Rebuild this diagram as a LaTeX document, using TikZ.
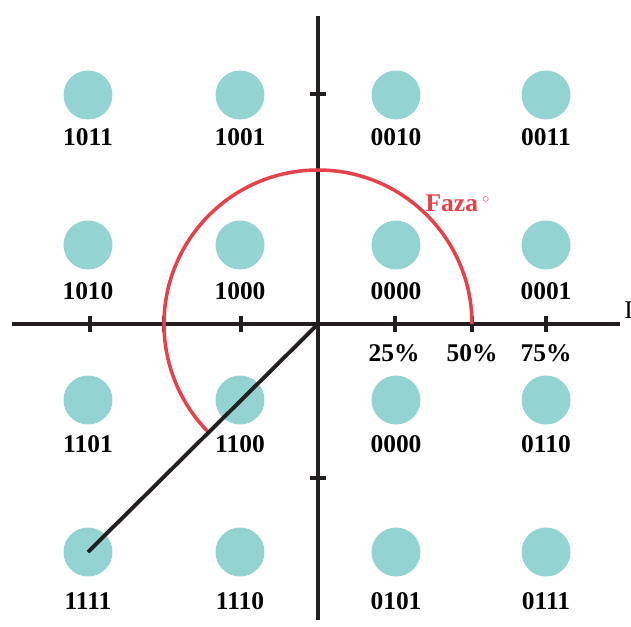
\documentclass[tikz,border=0pt]{standalone}
\usepackage{fontspec}
\setmainfont{Liberation Serif}
\usetikzlibrary{calc}
\definecolor{dotTeal}{HTML}{93D4D2}
\definecolor{phaseRed}{HTML}{E4414A}
\definecolor{axisBlack}{HTML}{231F20}
\tikzstyle{tsBold} = [ 
    text=black, 
    font=\bfseries\fontsize{14.5}{17}\selectfont
]
\tikzstyle{tsDot} = [ 
    circle,
    fill=dotTeal,
    inner sep=0pt,
    minimum size=0.98cm]
\tikzstyle{tsAxis} = [ 
    draw=axisBlack,
    line width=2.3pt]
\tikzstyle{tsTick} = [ 
    draw=axisBlack,
    line width=2.3pt]

\begin{document}
\begin{tikzpicture}[x=0.02cm, y=0.02cm]
        
        \useasboundingbox (-318,-302) rectangle (313,324);
        
        % constellation points
        \node[tsDot] (d11) at (-230,229) {};
        \node[tsDot] (d12) at (-78,229) {};
        \node[tsDot] (d13) at (78,229) {};
        \node[tsDot] (d14) at (228,229) {};
        
        \node[tsDot] (d21) at (-230,79) {};
        \node[tsDot] (d22) at (-78,79) {};
        \node[tsDot] (d23) at (78,79) {};
        \node[tsDot] (d24) at (228,79) {};
        
        \node[tsDot] (d31) at (-230,-76) {};
        \node[tsDot] (d32) at (-78,-76) {};
        \node[tsDot] (d33) at (78,-76) {};
        \node[tsDot] (d34) at (228,-76) {};
        
        \node[tsDot] (d41) at (-230,-228) {};
        \node[tsDot] (d42) at (-78,-228) {};
        \node[tsDot] (d43) at (78,-228) {};
        \node[tsDot] (d44) at (228,-228) {};
        
        \node[tsBold] (l11) at (-230,187) {1011};
        \node[tsBold] (l12) at (-78,187) {1001};
        \node[tsBold] (l13) at (78,187) {0010};
        \node[tsBold] (l14) at (228,187) {0011};
        
        \node[tsBold] (l21) at (-230,33) {1010};
        \node[tsBold] (l22) at (-78,33) {1000};
        \node[tsBold] (l23) at (78,33) {0000};
        \node[tsBold] (l24) at (228,33) {0001};
        
        \node[tsBold] (l31) at (-230,-120) {1101};
        \node[tsBold] (l32) at (-78,-120) {1100};
        \node[tsBold] (l33) at (78,-120) {0000};
        \node[tsBold] (l34) at (228,-120) {0110};
        
        \node[tsBold] (l41) at (-230,-277) {1111};
        \node[tsBold] (l42) at (-78,-277) {1110};
        \node[tsBold] (l43) at (78,-277) {0101};
        \node[tsBold] (l44) at (228,-277) {0111};
        
        % axes
        \coordinate (o) at (0,0);
        \coordinate (xl) at (-306,0);
        \coordinate (xr) at (302,0);
        \coordinate (yt) at (0,308);
        \coordinate (yb) at (0,-296);
        \draw[tsAxis] (xl) -- (xr);
        \draw[tsAxis] (yb) -- (yt);
        
        \draw[tsTick] (-228,-8) -- (-228,8);
        \draw[tsTick] (-154,-8) -- (-154,8);
        \draw[tsTick] (-77,-8) -- (-77,8);
        \draw[tsTick] (77,-8) -- (77,8);
        \draw[tsTick] (154,-8) -- (154,8);
        \draw[tsTick] (228,-8) -- (228,8);
        \draw[tsTick] (-8,230) -- (8,230);
        \draw[tsTick] (-8,-154) -- (8,-154);
        
        \node[tsBold] (p25) at (76,-29) {25\%};
        \node[tsBold] (p50) at (154,-29) {50\%};
        \node[tsBold] (p75) at (228,-29) {75\%};
        \node[text=black, font=\fontsize{14.5}{17}\selectfont, anchor=west, inner sep=0pt] (axI) at (306,14) {I};
        
        % phase
        \draw[draw=phaseRed, line width=2pt] (154,0) arc[start angle=0, end angle=225, radius=154];
        \node[tsBold, text=phaseRed] (faza) at (140,121) {Faza\,$^{\scriptscriptstyle\circ}$};
        \draw[axisBlack, line width=2.2pt] (o) -- (d41.center);
        
       \end{tikzpicture}
\end{document}
